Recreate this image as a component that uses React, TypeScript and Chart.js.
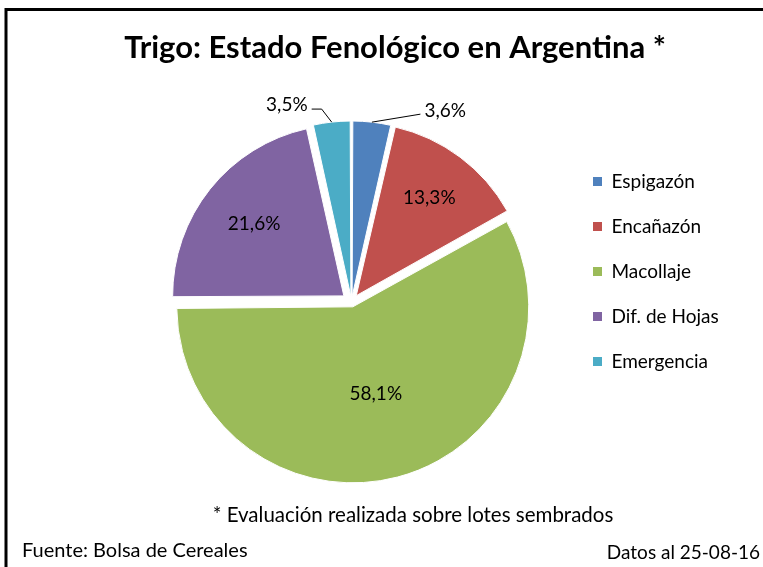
import React, { useEffect, useRef } from "react";
import { Chart, registerables } from "chart.js";

Chart.register(...registerables);

// ---- data ----
const categories = ["Espigazón", "Encañazón", "Macollaje", "Dif. de Hojas", "Emergencia"];
const values = [3.6, 13.3, 58.1, 21.6, 3.5];
const colors = ["#4F81BD", "#C0504D", "#9BBB59", "#8064A2", "#4BACC6"];
const titleText = "Trigo: Estado Fenológico en Argentina *";
const noteText = "* Evaluación realizada sobre lotes sembrados";
const sourceText = "Fuente: Bolsa de Cereales";
const dateText = "Datos al 25-08-16";

// ---- style ----
const FONT = "Lato, 'Open Sans', sans-serif";
const EXPLODE = 10;
const PIE_RADIUS = 171;
const LEGEND_FONT = 19;
const LEGEND_PAD = 26;
const LEGEND_BOX = 9;
const LEGEND_LEFT = 568;
const LEGEND_EXTRA = 9;
const labelRadius = [null, 0.7, 0.5, 0.67, null];
const leaders: any[] = [
  { pts: [[48.5, -8]], align: "left", tx: 4, ty: -3 },
  null,
  null,
  null,
  { pts: [[-10, -13], [-20, -13]], align: "right", tx: -4, ty: -4 },
];

const fmt = (v: number) => v.toFixed(1).replace(".", ",") + "%";

const total = values.reduce((a, b) => a + b, 0);
const offsets = values.map((v) => {
  const c = (v / total) * 2 * Math.PI;
  return (EXPLODE * 4) / (2 - Math.sin(Math.min(Math.PI, c)));
});

const decor = {
  id: "decor",
  beforeDraw(chart: any) {
    const ctx = chart.ctx;
    ctx.save();
    ctx.fillStyle = "#fff";
    ctx.fillRect(0, 0, chart.width, chart.height);
    ctx.strokeStyle = "#000";
    ctx.lineWidth = 3;
    ctx.beginPath();
    ctx.moveTo(6, chart.height + 2);
    ctx.lineTo(6, 9.5);
    ctx.lineTo(chart.width + 2, 9.5);
    ctx.stroke();
    ctx.restore();
  },
  afterDatasetsDraw(chart: any) {
    const ctx = chart.ctx;
    const meta = chart.getDatasetMeta(0);
    ctx.save();
    ctx.font = `19px ${FONT}`;
    ctx.fillStyle = "#000";
    ctx.strokeStyle = "#000";
    ctx.lineWidth = 1;
    ctx.textBaseline = "middle";
    meta.data.forEach((arc: any, i: number) => {
      const { x, y, startAngle, endAngle, outerRadius } = arc.getProps(
        ["x", "y", "startAngle", "endAngle", "outerRadius"],
        true
      );
      const mid = (startAngle + endAngle) / 2;
      const cx = x + Math.cos(mid) * EXPLODE;
      const cy = y + Math.sin(mid) * EXPLODE;
      const txt = fmt(values[i]);
      const f = labelRadius[i];
      if (f != null) {
        ctx.textAlign = "center";
        ctx.fillText(txt, cx + Math.cos(mid) * outerRadius * f, cy + Math.sin(mid) * outerRadius * f);
      } else {
        const L = leaders[i];
        const px = cx + Math.cos(mid) * outerRadius;
        const py = cy + Math.sin(mid) * outerRadius;
        ctx.beginPath();
        ctx.moveTo(px, py);
        let ex = px, ey = py;
        L.pts.forEach((p: number[]) => {
          ex = px + p[0];
          ey = py + p[1];
          ctx.lineTo(ex, ey);
        });
        ctx.stroke();
        ctx.textAlign = L.align;
        ctx.fillText(txt, ex + L.tx, ey + L.ty);
      }
    });
    ctx.restore();
  },
  afterDraw(chart: any) {
    const ctx = chart.ctx;
    ctx.save();
    ctx.fillStyle = "#000";
    ctx.textBaseline = "middle";
    ctx.textAlign = "center";
    ctx.font = `bold 31px ${FONT}`;
    ctx.fillText(titleText, 395, 48);
    ctx.font = `20.5px ${FONT}`;
    ctx.fillText(noteText, 413, 515);
    ctx.textAlign = "left";
    ctx.font = `20px ${FONT}`;
    ctx.fillText(sourceText, 22, 551);
    ctx.textAlign = "right";
    ctx.font = `19px ${FONT}`;
    ctx.fillText(dateText, 760, 553);
    ctx.restore();
  },
};

export default function App() {
  const ref = useRef<HTMLCanvasElement | null>(null);
  useEffect(() => {
    if (!ref.current) return;
    const mctx = document.createElement("canvas").getContext("2d")!;
    mctx.font = `${LEGEND_FONT}px ${FONT}`;
    const maxText = Math.max(...categories.map((c) => mctx.measureText(c).width));
    const legendWidth = LEGEND_PAD + LEGEND_BOX + LEGEND_FONT / 2 + maxText + LEGEND_EXTRA;
    const padRight = Math.max(0, 763 - LEGEND_LEFT - legendWidth);
    const chart = new Chart(ref.current, {
      type: "pie",
      data: {
        labels: categories,
        datasets: [
          {
            data: values,
            backgroundColor: colors,
            borderColor: "#fff",
            borderWidth: 1,
            offset: offsets,
            hoverOffset: 0,
            clip: false as any,
          } as any,
        ],
      },
      options: {
        responsive: false,
        animation: false,
        devicePixelRatio: 1,
        radius: PIE_RADIUS,
        layout: { padding: { left: 136, right: padRight, top: 146, bottom: 109 } },
        plugins: {
          title: { display: false },
          tooltip: { enabled: false },
          legend: {
            display: true,
            position: "right",
            align: "start",
            labels: {
              boxWidth: LEGEND_BOX,
              boxHeight: LEGEND_BOX,
              padding: LEGEND_PAD,
              color: "#000",
              font: { family: FONT, size: LEGEND_FONT },
              generateLabels: (ch: any) =>
                (Chart as any).overrides.pie.plugins.legend.labels
                  .generateLabels(ch)
                  .map((l: any) => ({ ...l, lineWidth: 0 })),
            },
          },
        },
      } as any,
      plugins: [decor],
    });
    return () => chart.destroy();
  }, []);
  return (
    <div style={{ position: "fixed", left: 0, top: 0, width: 763, height: 567, background: "#fff" }}>
      <canvas ref={ref} width={763} height={567} style={{ display: "block", width: 763, height: 567 }} />
    </div>
  );
}
